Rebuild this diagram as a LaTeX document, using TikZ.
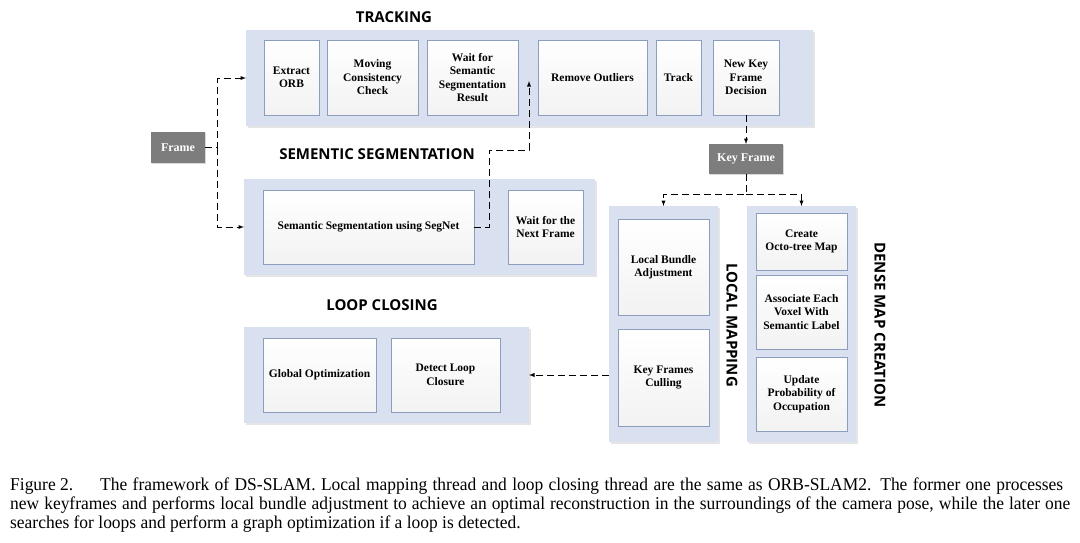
\documentclass[tikz,border=0pt]{standalone}
\usepackage{fontspec}
\setmainfont{Liberation Serif}
\newfontfamily\headfont{Open Sans}
\newfontfamily\capfont[FakeStretch=0.97]{Liberation Serif}
\usetikzlibrary{positioning, arrows, shadows}
\definecolor{threadbg}{RGB}{217,225,241}
\definecolor{boxline}{RGB}{141,157,190}
\definecolor{keygray}{RGB}{125,125,125}
\tikzset{
x=1pt, y=-1pt, % one unit is one pixel of the reference, y runs downwards
thread/.style={fill=threadbg, draw=none, anchor=north west, inner sep=0pt, outer sep=0pt,
  drop shadow={shadow xshift=1.5pt, shadow yshift=-1.5pt, opacity=0.25, fill=black!40}}, % the light blue thread panels
stepbox/.style={draw=boxline, line width=0.7pt, top color=white, bottom color=gray!10, anchor=north west,
  align=center, inner sep=2pt, outer sep=0pt, font=\fontsize{11.5}{13.5}\selectfont\bfseries}, % the white steps
keybox/.style={fill=keygray, draw=none, text=white, anchor=north west, inner sep=0pt, outer sep=0pt,
  font=\fontsize{12}{14}\selectfont\bfseries, drop shadow={shadow xshift=1pt, shadow yshift=-1pt, opacity=0.3}},
title/.style={font=\headfont\fontsize{15}{17}\selectfont\bfseries},
flow/.style={->, >=latex, dash pattern=on 7pt off 4pt, line width=0.9pt}, % dashed data flow
caption/.style={font=\capfont\fontsize{18}{20}\selectfont, anchor=base west, inner sep=0pt},
}
\begin{document}
\begin{tikzpicture}
    \useasboundingbox (0,0) rectangle (1080,542);

    % thread panels
    \node[thread, minimum width=567pt, minimum height=96pt] (tracking) at (246,30) {};
    \node[thread, minimum width=351pt, minimum height=96pt] (segm) at (244,179) {};
    \node[thread, minimum width=285pt, minimum height=96pt] (loopc) at (244,327) {};
    \node[thread, minimum width=109pt, minimum height=236pt] (localmap) at (609,206) {};
    \node[thread, minimum width=109pt, minimum height=236pt] (densemap) at (747,206) {};

    \node[title] at (394,17) {TRACKING};
    \node[title] at (377,154) {SEMENTIC SEGMENTATION};
    \node[title] at (382,305) {LOOP CLOSING};
    \node[title, rotate=-90] at (732,325) {LOCAL MAPPING};
    \node[title, rotate=-90] at (880,325) {DENSE MAP CREATION};

    % tracking
    \node[stepbox, minimum width=55pt, minimum height=75pt] (extract) at (264,40) {Extract\\ORB};
    \node[stepbox, minimum width=91pt, minimum height=75pt] (mcc) at (327,40) {Moving\\Consistency\\Check};
    \node[stepbox, minimum width=91pt, minimum height=75pt] (waitseg) at (427,40) {Wait for\\Semantic\\Segmentation\\Result};
    \node[stepbox, minimum width=109pt, minimum height=75pt] (outliers) at (538,40) {Remove Outliers};
    \node[stepbox, minimum width=45pt, minimum height=75pt] (track) at (656,40) {Track};
    \node[stepbox, minimum width=66pt, minimum height=75pt] (ndecision) at (713,40) {New Key\\Frame\\Decision};

    % semantic segmentation
    \node[stepbox, minimum width=211pt, minimum height=74pt] (segnet) at (263,190) {Semantic Segmentation using SegNet};
    \node[stepbox, minimum width=75pt, minimum height=74pt] (waitnext) at (508,190) {Wait for the\\Next Frame};

    % loop closing
    \node[stepbox, minimum width=113pt, minimum height=74pt] (globopt) at (263,338) {Global Optimization};
    \node[stepbox, minimum width=109pt, minimum height=74pt] (detloop) at (391,338) {Detect Loop\\Closure};

    % local mapping
    \node[stepbox, minimum width=91pt, minimum height=96pt] (lba) at (618,219) {Local Bundle\\Adjustment};
    \node[stepbox, minimum width=91pt, minimum height=97pt] (culling) at (618,329) {Key Frames\\Culling};

    % dense map creation
    \node[stepbox, minimum width=91pt, minimum height=57pt] (octo) at (756,213) {Create\\Octo-tree Map};
    \node[stepbox, minimum width=91pt, minimum height=74pt] (assoc) at (756,275) {Associate Each\\Voxel With\\Semantic Label};
    \node[stepbox, minimum width=91pt, minimum height=74pt] (update) at (756,357) {Update\\Probability of\\Occupation};

    % inputs
    \node[keybox, minimum width=54pt, minimum height=31pt] (frame) at (151,132) {Frame};
    \node[keybox, minimum width=74pt, minimum height=30pt] (keyframe) at (709,144) {Key Frame};

    \coordinate (segturn) at (489,150);
    \coordinate (segin) at (529,81);

    \draw[flow] (frame.east) -- ++(12,0) coordinate (fsplit) |- (tracking.west);
    \draw[flow] (fsplit) |- (segm.west);
    \draw[flow] (segnet.east) -| (segturn) -| (segin);
    \draw[flow] (ndecision.south) -- (keyframe.north);
    \draw[flow] (keyframe.south) -- ++(0,20) coordinate (ksplit) -| (localmap.north);
    \draw[flow] (ksplit) -| (densemap.north);
    \draw[flow] (localmap.west |- loopc.east) -- (loopc.east);

    % caption
    \node[caption] (cap1) at (10,490) {\makebox[90pt][l]{Figure 2.}\makebox[963pt][s]{The framework of DS-SLAM. Local mapping thread and loop closing thread are the same as ORB-SLAM2. The former one processes}};
    \node[caption] (cap2) at (10,509) {\makebox[1060pt][s]{new keyframes and performs local bundle adjustment to achieve an optimal reconstruction in the surroundings of the camera pose, while the later one}};
    \node[caption] (cap3) at (10,528) {searches for loops and perform a graph optimization if a loop is detected.};
\end{tikzpicture}
\end{document}
